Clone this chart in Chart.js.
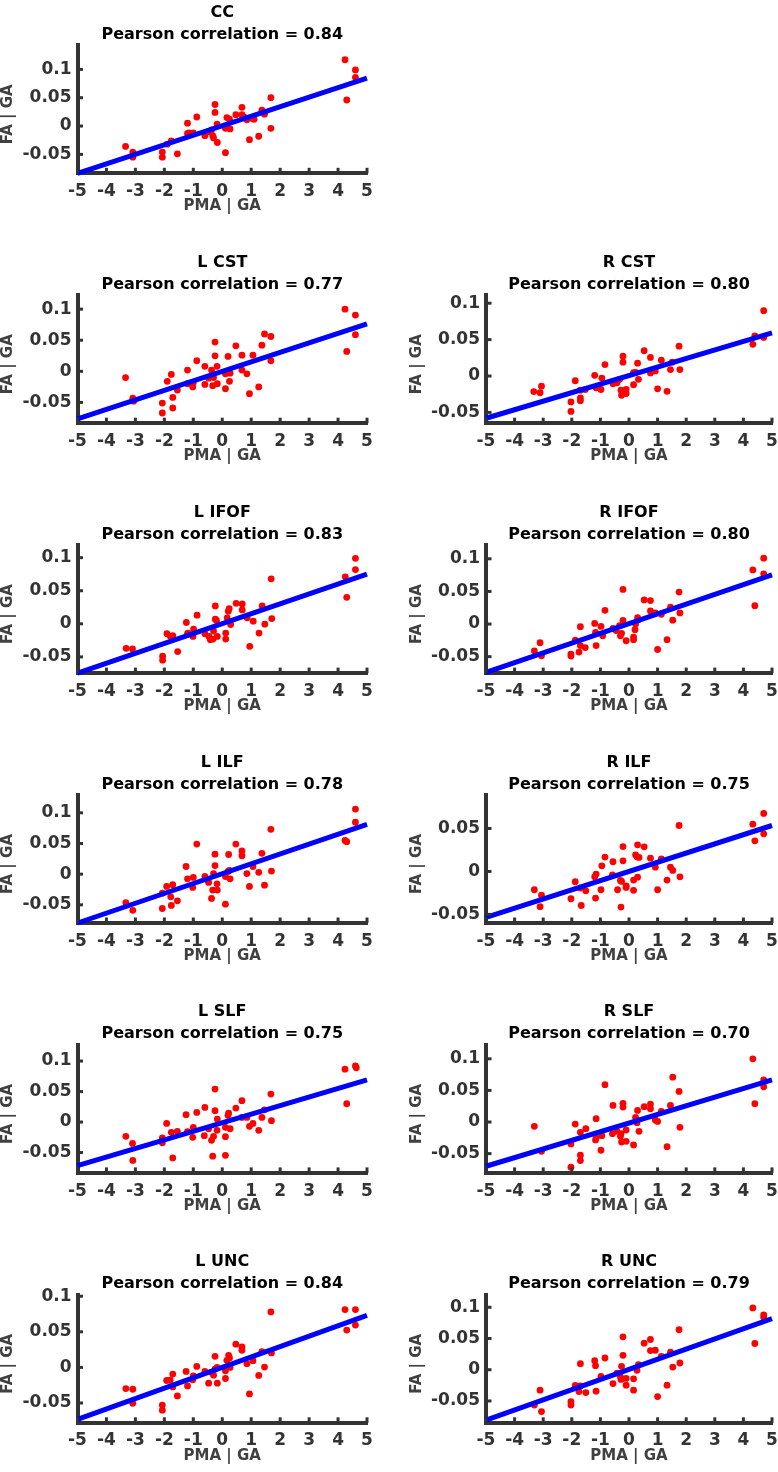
<!DOCTYPE html>
<html>
<head>
<meta charset="utf-8">
<script src="https://cdn.jsdelivr.net/npm/chart.js@4.4.0/dist/chart.umd.min.js"></script>
<style>
html, body { margin: 0; padding: 0; background: #fff; }
#wrap { position: relative; width: 778px; height: 1472px; overflow: hidden; }
canvas { position: absolute; }
</style>
</head>
<body>
<div id="wrap"></div>
<script>
// panels
const names = ['CC', 'L CST', 'R CST', 'L IFOF', 'R IFOF', 'L ILF', 'R ILF', 'L SLF', 'R SLF', 'L UNC', 'R UNC']
const corrs = ['0.84', '0.77', '0.80', '0.83', '0.80', '0.78', '0.75', '0.75', '0.70', '0.84', '0.79']
const rows = [0, 1, 1, 2, 2, 3, 3, 4, 4, 5, 5]
const cols = [0, 0, 1, 0, 1, 0, 1, 0, 1, 0, 1]

const xTicks = [-5, -4, -3, -2, -1, 0, 1, 2, 3, 4, 5]
const yTicks = [-0.05, 0, 0.05, 0.1]

const yMins = [-0.0834, -0.0834, -0.0648, -0.0745, -0.0752, -0.0796, -0.060, -0.0834, -0.0805, -0.0778, -0.085]
const yMaxs = [0.1425, 0.1224, 0.111, 0.119, 0.121, 0.129, 0.089, 0.1265, 0.122, 0.102, 0.120]

// fit line, value at x = -5 and x = 5
const fitLo = [-0.0834, -0.0764, -0.058, -0.0745, -0.0742, -0.0796, -0.0535, -0.0714, -0.070, -0.0731, -0.0806]
const fitHi = [0.0846, 0.0764, 0.0593, 0.075, 0.0752, 0.0813, 0.0535, 0.069, 0.0668, 0.0731, 0.0817]

const ccPts = [[4.24,0.117],[4.6,0.099],[4.6,0.086],[4.3,0.046],[1.68,0.050],[1.68,-0.004],[1.37,0.028],[1.46,0.021],
  [1.26,-0.018],[0.94,-0.024],[1.06,0.013],[0.85,0.011],[0.68,0.033],[0.68,0.020],[0.47,0.020],[0.27,-0.005],
  [0.16,0.015],[0.11,-0.004],[0.11,-0.047],[-0.18,0.0035],[-0.17,-0.029],[-0.25,0.038],[-0.25,0.024],[-0.33,-0.017],
  [-0.37,-0.007],[-0.47,-0.010],[-0.6,-0.017],[-0.88,0.016],[-1.0,-0.012],[-1.2,0.005],[-1.2,-0.013],[-1.55,-0.049],
  [-1.76,-0.026],[-1.9,-0.032],[-2.07,-0.046],[-2.07,-0.055],[-3.09,-0.046],[-3.09,-0.055],[-3.34,-0.036],
  [-1.15,-0.012],[0.25,0.012],[0.75,0.016],[-0.3,-0.021],[1.1,0.012]]
const lCstPts = [[4.24,0.100],[4.6,0.0905],[4.6,0.059],[4.3,0.032],[1.46,0.060],[1.68,0.056],[1.37,0.042],[1.68,0.017],
  [1.26,-0.025],[0.94,-0.036],[1.06,0.026],[0.85,-0.004],[0.68,0.026],[0.68,0.002],[0.47,0.041],[0.27,-0.003],
  [0.25,-0.016],[0.2,0.024],[0.11,-0.004],[0.11,-0.028],[-0.18,0.008],[-0.17,-0.020],[-0.25,0.047],[-0.25,0.025],
  [-0.33,-0.023],[-0.37,0.002],[-0.47,-0.011],[-0.6,-0.021],[-0.6,0.008],[-0.88,0.017],[-1.0,-0.018],[-1.02,-0.025],
  [-1.2,0.002],[-1.2,-0.020],[-1.55,-0.030],[-1.76,-0.005],[-1.71,-0.042],[-1.71,-0.059],[-1.9,-0.016],[-2.07,-0.051],
  [-2.07,-0.067],[-3.09,-0.043],[-3.06,-0.048],[-3.34,-0.010],[-0.3,-0.010]]
const rCstPts = [[4.71,0.0898],[4.4,0.055],[4.33,0.0435],[4.71,0.053],[1.75,0.041],[1.78,0.0088],[1.45,0.0088],[1.51,0.019],
  [1.33,-0.021],[1.0,-0.0176],[1.13,0.0218],[0.92,0.007],[0.75,0.0255],[0.75,0.0042],[0.53,0.0347],[0.3,0.0176],
  [0.33,-0.0046],[0.23,0.005],[0.16,-0.012],[0.16,0.0046],[-0.1,-0.0185],[-0.1,-0.024],[-0.21,0.0273],[-0.21,0.019],
  [-0.28,-0.0194],[-0.26,-0.0264],[-0.33,-0.0046],[-0.42,-0.0093],[-0.56,-0.0106],[-0.84,0.0157],[-0.95,-0.0028],
  [-0.98,-0.0185],[-1.2,0.0009],[-1.15,-0.0162],[-1.53,-0.0185],[-1.7,-0.0194],[-1.7,-0.0338],[-1.7,-0.030],
  [-1.88,-0.0065],[-2.03,-0.0356],[-2.03,-0.0486],[-3.06,-0.0139],[-3.11,-0.023],[-3.33,-0.0213],[-0.5,-0.008]]
const lIfofPts = [[4.6,0.099],[4.6,0.082],[4.25,0.071],[4.3,0.040],[1.69,0.068],[1.71,0.008],[1.38,0.027],[1.47,-0.0005],
  [1.27,-0.014],[0.95,-0.034],[1.07,0.004],[0.86,0.009],[0.69,0.030],[0.69,0.021],[0.48,0.031],[0.29,-0.001],
  [0.24,0.023],[0.21,0.019],[0.17,0.009],[0.12,-0.014],[0.12,-0.023],[-0.17,-0.019],[-0.24,0.027],[-0.24,0.007],
  [-0.3,-0.011],[-0.32,-0.023],[-0.41,-0.024],[-0.46,-0.019],[-0.6,-0.015],[-0.87,0.013],[-0.99,-0.008],[-1.01,-0.019],
  [-1.24,0.002],[-1.19,-0.014],[-1.54,-0.042],[-1.71,-0.018],[-1.79,-0.019],[-1.91,-0.015],[-2.06,-0.049],[-2.06,-0.055],
  [-3.1,-0.038],[-3.32,-0.037],[-0.2,0.005],[-1.2,-0.016]]
const rIfofPts = [[4.71,0.101],[4.33,0.083],[4.71,0.077],[4.4,0.028],[1.75,0.049],[1.78,0.017],[1.45,0.026],[1.53,0.006],
  [1.33,-0.024],[1.0,-0.039],[1.13,0.015],[0.92,0.017],[0.75,0.036],[0.75,0.020],[0.53,0.037],[0.3,0.0097],
  [0.33,0.0067],[0.23,0.0],[0.21,-0.0087],[0.16,-0.020],[0.16,-0.024],[-0.1,-0.0256],[-0.21,0.053],[-0.21,0.0056],
  [-0.26,-0.0143],[-0.3,-0.018],[-0.33,-0.0026],[-0.56,-0.0067],[-0.84,0.021],[-0.98,-0.0036],[-0.92,-0.018],
  [-1.2,0.001],[-1.17,-0.0128],[-1.15,-0.033],[-1.53,-0.036],[-1.7,-0.004],[-1.7,-0.033],[-1.75,-0.043],
  [-1.88,-0.0246],[-2.03,-0.046],[-2.03,-0.049],[-3.11,-0.0287],[-3.06,-0.0486],[-3.31,-0.041],[-0.45,-0.01]]
const lIlfPts = [[4.6,0.106],[4.6,0.0846],[4.24,0.055],[4.3,0.053],[1.68,0.073],[1.7,0.005],[1.37,0.034],[1.46,-0.018],
  [1.26,0.003],[0.94,-0.020],[1.06,0.0125],[0.85,0.001],[0.68,0.038],[0.68,0.030],[0.47,0.049],[0.27,-0.0076],
  [0.22,0.032],[0.2,0.0043],[0.11,-0.0038],[0.11,-0.049],[-0.18,-0.0157],[-0.17,-0.026],[-0.25,0.0325],[-0.25,0.014],
  [-0.3,0.001],[-0.33,-0.026],[-0.37,-0.0396],[-0.47,-0.0135],[-0.6,-0.0038],[-0.88,0.049],[-1.0,-0.0054],[-1.02,-0.0217],
  [-1.25,0.0125],[-1.2,-0.0076],[-1.55,-0.0434],[-1.71,-0.0173],[-1.76,-0.051],[-1.78,-0.037],[-1.92,-0.020],
  [-2.07,-0.031],[-2.07,-0.056],[-3.09,-0.059],[-3.33,-0.0466],[0.25,0.006],[-0.5,-0.01]]
const rIlfPts = [[4.71,0.0675],[4.33,0.055],[4.71,0.0438],[4.4,0.0357],[1.75,0.0535],[1.78,-0.0062],[1.45,0.005],[1.53,0.0012],
  [1.33,-0.010],[1.0,-0.0213],[1.13,0.0147],[0.92,0.005],[0.75,0.0155],[0.53,0.0287],[0.3,0.031],[0.35,0.0163],
  [0.23,0.0194],[0.28,0.017],[0.3,-0.0066],[0.16,-0.010],[0.16,-0.022],[-0.1,-0.0186],[-0.1,-0.0167],[-0.21,0.029],
  [-0.21,0.0124],[-0.26,-0.0116],[-0.3,-0.0105],[-0.28,-0.0415],[-0.4,-0.0213],[-0.58,-0.0039],[-0.56,0.0113],
  [-0.84,0.0167],[-0.95,0.0066],[-0.98,-0.0213],[-1.15,-0.0031],[-1.2,-0.0062],[-1.17,-0.031],[-1.51,-0.0225],
  [-1.7,-0.0194],[-1.67,-0.0396],[-1.88,-0.012],[-2.03,-0.0318],[-3.06,-0.0276],[-3.11,-0.041],[-3.31,-0.0213]]
const lSlfPts = [[4.6,0.092],[4.63,0.089],[4.24,0.0867],[4.3,0.030],[1.68,0.0458],[1.7,0.0022],[1.46,0.020],[1.37,0.0076],
  [1.26,-0.0136],[1.06,-0.0022],[0.94,-0.007],[0.85,0.0076],[0.68,0.035],[0.68,0.0076],[0.47,0.0229],[0.27,-0.011],
  [0.22,0.0147],[0.2,0.011],[0.11,-0.0087],[0.11,-0.024],[0.11,-0.0545],[-0.17,0.0049],[-0.18,-0.0136],[-0.25,0.054],
  [-0.25,0.0185],[-0.3,-0.0234],[-0.37,-0.030],[-0.33,-0.056],[-0.47,-0.011],[-0.6,0.024],[-0.62,-0.0223],
  [-0.88,0.0158],[-1.0,-0.0087],[-1.02,-0.025],[-1.25,0.012],[-1.2,-0.0158],[-1.55,-0.0153],[-1.71,-0.0589],
  [-1.76,-0.0169],[-1.92,-0.0022],[-2.07,-0.026],[-2.07,-0.034],[-3.09,-0.063],[-3.1,-0.035],[-3.33,-0.0234]]
const rSlfPts = [[4.33,0.100],[4.71,0.0668],[4.71,0.0558],[4.4,0.029],[1.53,0.071],[1.75,0.0484],[1.78,-0.0084],[1.45,0.0263],
  [1.33,-0.039],[1.13,0.0168],[1.0,0.001],[0.92,0.0032],[0.75,0.0284],[0.75,0.021],[0.53,0.0242],[0.3,0.0184],
  [0.35,-0.0147],[0.23,0.0074],[0.28,-0.001],[0.16,-0.0363],[-0.21,0.0295],[-0.21,0.0237],[-0.1,-0.0126],[-0.1,-0.0305],
  [-0.26,-0.0316],[-0.28,-0.0184],[-0.3,-0.0226],[-0.42,-0.0147],[-0.56,0.0263],[-0.58,-0.0184],[-0.84,0.059],
  [-0.95,-0.0216],[-0.98,-0.0447],[-1.15,0.0053],[-1.17,-0.0284],[-1.51,-0.0105],[-1.7,-0.0163],[-1.7,-0.0526],
  [-1.7,-0.061],[-1.88,-0.0032],[-2.03,-0.0347],[-2.03,-0.0715],[-3.06,-0.0463],[-3.31,-0.0068],[-1.15,-0.025]]
const lUncPts = [[4.24,0.0812],[4.6,0.0812],[4.6,0.0595],[4.3,0.0524],[1.68,0.078],[1.7,0.0203],[1.37,0.0222],[1.46,0.0005],
  [1.26,-0.0113],[0.94,-0.0373],[1.06,0.0094],[0.85,0.0052],[0.68,0.0288],[0.68,0.024],[0.47,0.0326],[0.27,0.0],
  [0.22,0.017],[0.25,0.0132],[0.16,0.0099],[0.11,-0.0047],[0.11,-0.0156],[-0.17,-0.0222],[-0.18,0.0],[-0.25,0.0156],
  [-0.25,-0.0024],[-0.3,-0.0109],[-0.37,-0.0071],[-0.47,-0.0222],[-0.6,-0.0057],[-0.88,0.0014],[-1.0,-0.0118],
  [-1.02,-0.0175],[-1.25,-0.0057],[-1.2,-0.026],[-1.55,-0.040],[-1.71,-0.0094],[-1.71,-0.0274],[-1.8,-0.018],
  [-1.92,-0.0184],[-2.07,-0.0529],[-2.07,-0.060],[-3.09,-0.0505],[-3.09,-0.0307],[-3.33,-0.0297]]
const rUncPts = [[4.33,0.099],[4.71,0.088],[4.71,0.084],[4.4,0.042],[1.75,0.064],[1.78,0.0108],[1.45,0.028],[1.53,0.0043],
  [1.33,-0.0247],[1.0,-0.043],[1.13,0.0215],[0.92,0.0312],[0.75,0.0484],[0.75,0.0307],[0.53,0.0425],[0.33,0.0081],
  [0.28,-0.001],[0.16,-0.0145],[0.16,-0.0328],[-0.1,-0.014],[-0.1,-0.0247],[-0.21,0.0527],[-0.21,0.0231],[-0.26,0.0054],
  [-0.28,-0.0156],[-0.3,-0.0113],[-0.42,-0.0054],[-0.56,-0.0221],[-0.84,0.0188],[-0.98,-0.0108],[-1.15,-0.0344],
  [-1.17,0.0065],[-1.2,0.0145],[-1.51,-0.0366],[-1.7,0.0097],[-1.7,-0.0258],[-1.75,-0.035],[-1.88,-0.0253],
  [-2.03,-0.051],[-2.03,-0.0565],[-3.11,-0.0328],[-3.06,-0.067],[-3.31,-0.0565]]

const allPts = [ccPts, lCstPts, rCstPts, lIfofPts, rIfofPts, lIlfPts, rIlfPts, lSlfPts, rSlfPts, lUncPts, rUncPts]

const axisColor = '#333333'
const tickFont = { family: 'DejaVu Sans', size: 17, weight: 'bold' }

// titles, axis labels and inward tick marks, MATLAB style
const decor = {
    id: 'decor',
    afterDraw(chart) {
        const o = chart.options.plugins.decor
        const ctx = chart.ctx
        const a = chart.chartArea
        const xs = chart.scales.x, ys = chart.scales.y
        ctx.save()
        ctx.strokeStyle = axisColor
        ctx.lineWidth = 3
        xs.ticks.forEach(t => {
            const px = xs.getPixelForValue(t.value)
            ctx.beginPath(); ctx.moveTo(px, a.bottom); ctx.lineTo(px, a.bottom - 5.5); ctx.stroke()
        })
        ys.ticks.forEach(t => {
            const py = ys.getPixelForValue(t.value)
            ctx.beginPath(); ctx.moveTo(a.left, py); ctx.lineTo(a.left + 5.5, py); ctx.stroke()
        })
        const cx = (a.left + a.right) / 2
        ctx.textAlign = 'center'
        ctx.textBaseline = 'alphabetic'
        ctx.fillStyle = '#000'
        ctx.font = 'bold 16px "DejaVu Sans"'
        ctx.fillText(o.name, cx, a.top - 28.5)
        ctx.fillText('Pearson correlation = ' + o.r, cx, a.top - 6.5)
        ctx.fillStyle = '#404040'
        ctx.font = 'bold 15px "DejaVu Sans"'
        ctx.textBaseline = 'middle'
        ctx.fillText('PMA | GA', cx, a.bottom + 33)
        ctx.translate(a.left - 69, (a.top + a.bottom) / 2 + 5)
        ctx.rotate(-Math.PI / 2)
        ctx.fillText('FA | GA', 0, 0)
        ctx.restore()
    }
}

const wrap = document.getElementById('wrap')
const plotH = 128
const yAxisW = 72

for (let i = 0; i < names.length; i++) {
    const plotTop = 45.3 + 249.9 * rows[i]
    const canvasTop = Math.floor(plotTop) - 45
    const padTop = plotTop - canvasTop
    const cH = 225
    // right column canvas runs past the page edge so the last tick label does not squeeze the plot
    const left = cols[i] === 0 ? 0 : 395
    const cW = cols[i] === 0 ? 389 : 405
    const plotL = cols[i] === 0 ? 77.5 : 91
    const plotR = cols[i] === 0 ? 367 : 377

    const cv = document.createElement('canvas')
    cv.width = cW
    cv.height = cH
    cv.style.left = left + 'px'
    cv.style.top = canvasTop + 'px'
    cv.style.width = cW + 'px'
    cv.style.height = cH + 'px'
    wrap.appendChild(cv)

    new Chart(cv, {
        type: 'scatter',
        data: {
            datasets: [{
                type: 'line',
                data: [{ x: -5, y: fitLo[i] }, { x: 5, y: fitHi[i] }],
                borderColor: '#0000ff',
                borderWidth: 5,
                pointRadius: 0,
                borderCapStyle: 'butt',
                clip: false
            }, {
                data: allPts[i].map(p => ({ x: p[0], y: p[1] })),
                backgroundColor: '#ff0000',
                borderWidth: 0,
                pointRadius: 3.4,
                clip: false
            }]
        },
        plugins: [decor],
        options: {
            responsive: false,
            animation: false,
            layout: {
                padding: { left: plotL - yAxisW, right: cW - plotR, top: padTop, bottom: cH - padTop - plotH - 48 }
            },
            plugins: {
                legend: { display: false },
                tooltip: { enabled: false },
                decor: { name: names[i], r: corrs[i] }
            },
            scales: {
                x: {
                    type: 'linear',
                    min: -5,
                    max: 5,
                    afterBuildTicks: s => { s.ticks = xTicks.map(v => ({ value: v })) },
                    afterFit: s => { s.height = 48 },
                    grid: { display: false, drawTicks: false },
                    border: { display: true, color: axisColor, width: 4 },
                    ticks: { font: tickFont, color: axisColor, padding: 8, maxRotation: 0, autoSkip: false }
                },
                y: {
                    type: 'linear',
                    min: yMins[i],
                    max: yMaxs[i],
                    afterBuildTicks: s => { s.ticks = yTicks.filter(v => v >= s.min && v <= s.max).map(v => ({ value: v })) },
                    afterFit: s => { s.width = yAxisW },
                    grid: { display: false, drawTicks: false },
                    border: { display: true, color: axisColor, width: 4 },
                    ticks: { font: tickFont, color: axisColor, padding: 6, autoSkip: false, callback: v => String(v) }
                }
            }
        }
    })
}
</script>
</body>
</html>
